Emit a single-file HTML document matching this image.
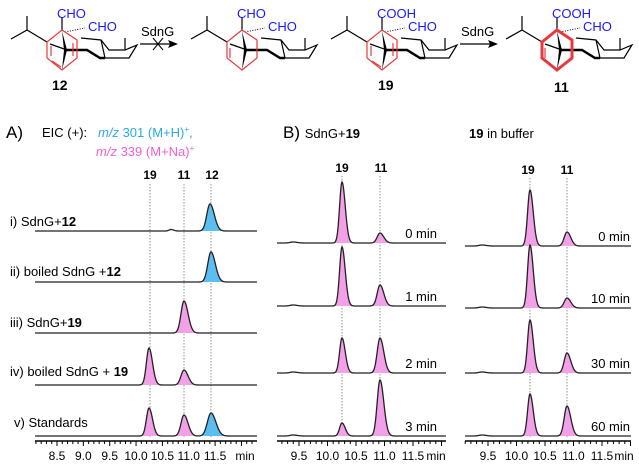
<!DOCTYPE html>
<html><head><meta charset="utf-8"><style>
body{margin:0;background:#fff;width:639px;height:468px;overflow:hidden}
svg{display:block;font-family:"Liberation Sans",Arial,sans-serif}
</style></head><body>
<svg id="s" width="639" height="468" viewBox="0 0 639 468" xmlns="http://www.w3.org/2000/svg">
<defs>
<g id="mol">
  <polyline points="6,39 22,30 22,16" fill="none" stroke="#000" stroke-width="1.2"/>
  <line x1="22" y1="30" x2="42" y2="42" stroke="#000" stroke-width="1.2"/>
  <line x1="57" y1="30" x2="57" y2="17" stroke="#000" stroke-width="1.2"/>
  <line x1="45" y1="44" x2="62" y2="50" stroke="#000" stroke-width="1.2"/>
  <polygon points="57,31 62,50 57,70 59,50" fill="#000"/>
  <polyline points="60,50 82,50 95,58 100,58" fill="none" stroke="#000" stroke-width="2.4"/>
  <polyline points="76,38 96,40 104,50 120,50 132,45 124,58 102,58 96,58" fill="none" stroke="#000" stroke-width="1.2"/>
  <line x1="96" y1="40" x2="100" y2="58" stroke="#000" stroke-width="1.2"/>
  <line x1="120" y1="38" x2="120" y2="50" stroke="#000" stroke-width="1.2"/>
  <line x1="60" y1="32" x2="80" y2="28" stroke="#000" stroke-width="1" stroke-dasharray="1,1.5"/>
</g>
</defs>
<g id="chem"></g>
<g id="plots"></g>
</svg>
<script>
var S='http://www.w3.org/2000/svg';
var chem=document.getElementById('chem'),plots=document.getElementById('plots');
function el(p,t,a,txt){var e=document.createElementNS(S,t);for(var k in a)e.setAttribute(k,a[k]);if(txt!==undefined)e.textContent=txt;p.appendChild(e);return e;}
function mol(ox,top,red,bold){
  var g=el(chem,'g',{transform:'translate('+ox+',0)'});
  el(g,'use',{href:'#mol'});
  var sw=bold?3:1.2;
  el(g,'polygon',{points:'42,42 57,30 72,40 72,58 57,70 42,58',fill:'none',stroke:'#e8383d','stroke-width':sw});
  if(red){el(g,'line',{x1:46,y1:46,x2:46,y2:56,stroke:'#e8383d','stroke-width':1.2});el(g,'line',{x1:47,y1:61,x2:56,y2:67,stroke:'#e8383d','stroke-width':1.2});el(g,'line',{x1:68,y1:43,x2:68,y2:56,stroke:'#e8383d','stroke-width':1.2});}
  else{el(g,'line',{x1:45,y1:48,x2:45,y2:58,stroke:'#e8383d','stroke-width':1.2});}
  el(g,'text',{x:52,y:18,fill:'#1a1aff','font-size':13},top);
  el(g,'text',{x:83,y:31,fill:'#1a1aff','font-size':13},'CHO');
}
mol(5,'CHO',true,false);mol(185,'CHO',false,false);mol(325,'COOH',true,false);mol(500,'COOH',false,true);
function arrow(x,cross){el(chem,'line',{x1:x,y1:44,x2:x+32,y2:44,stroke:'#000','stroke-width':1.2});el(chem,'polygon',{points:(x+38)+',44 '+(x+28)+',40 '+(x+30)+',44 '+(x+28)+',48',fill:'#000'});el(chem,'text',{x:x+1,y:36,'font-size':13},'SdnG');
 if(cross){el(chem,'line',{x1:x+13,y1:38,x2:x+23,y2:50,stroke:'#000','stroke-width':1});el(chem,'line',{x1:x+13,y1:50,x2:x+23,y2:38,stroke:'#000','stroke-width':1});}}
arrow(140,true);arrow(460,false);
[['12',52,90],['19',378,90],['11',554,92]].forEach(function(a){el(chem,'text',{x:a[1],y:a[2],'font-size':14,'font-weight':'bold'},a[0]);});

function peakPath(x0,x1,base,peaks){
  var pts=[];for(var x=x0;x<=x1;x+=0.5){var y=0;peaks.forEach(function(p){var d=x-p[0];var s=d<0?p[2]:p[2]*1.35;y+=p[1]*Math.exp(-d*d/(2*s*s));});pts.push([x,base-y]);}
  return pts;
}
function trace(x0,x1,base,peaks,fills){
  var pts=peakPath(x0,x1,base,peaks);
  peaks.forEach(function(p,i){var c=fills[i];var a=p[0]-4*p[2],b=p[0]+5*p[2];var sub=pts.filter(function(q){return q[0]>=a&&q[0]<=b;});
    var d='M'+a+','+base+sub.map(function(q){return 'L'+q[0]+','+q[1].toFixed(2);}).join('')+'L'+b+','+base+'Z';el(plots,'path',{d:d,fill:c});});
  el(plots,'path',{d:'M'+pts.map(function(q){return q[0]+','+q[1].toFixed(2);}).join('L'),fill:'none',stroke:'#222','stroke-width':1.3});
}
var P='#f2a0e8',B='#5bbdf0';
function axis(x0,x1,y,f,minx,labels){
  el(plots,'line',{x1:x0,y1:y,x2:x1,y2:y,stroke:'#000','stroke-width':1.5});
  for(var t=8.0;t<=12.3;t+=0.1){var x=f(t);if(x<x0||x>x1)continue;var m=Math.round(t*10)%5==0;el(plots,'line',{x1:x,y1:y,x2:x,y2:y+(m?5:3),stroke:'#000','stroke-width':1});}
  labels.forEach(function(t){el(plots,'text',{x:f(t),y:y+19,'font-size':12,'text-anchor':'middle'},t.toFixed(1));});
  el(plots,'text',{x:minx,y:y+19,'font-size':12,'text-anchor':'middle'},'min');
}
function vdot(x,y0,y1){el(plots,'line',{x1:x,y1:y0,x2:x,y2:y1,stroke:'#777','stroke-width':0.8,'stroke-dasharray':'1.5,1.5'});}
var fA=function(t){return 57+(t-8.5)*52.7;};
vdot(150,184,437);vdot(184,184,437);vdot(211,184,437);
[['19',150],['11',184],['12',212]].forEach(function(a){el(plots,'text',{x:a[1],y:179,'font-size':12,'font-weight':'bold','text-anchor':'middle'},a[0]);});
trace(35,257,231,[[210,27,3.2],[171,1.5,2]],[B,'none']);
trace(35,257,282,[[211,30,3.2]],[B]);
trace(35,257,333,[[184,32,3.0]],[P]);
trace(35,257,385,[[149,37,2.6],[184,15,3.0]],[P,P]);
trace(35,257,436,[[149,28,2.6],[184,21,3.0],[211,23,3.6]],[P,P,B]);
axis(35,257,441,fA,245,[8.5,9.0,9.5,10.0,10.5,11.0,11.5]);
var rl=[['i) SdnG+','12',10,226],['ii) boiled SdnG +','12',10,276],['iii) SdnG+','19',10,327],['iv) boiled SdnG + ','19',10,376],['v) Standards','',14,427]];
rl.forEach(function(r){var t=el(plots,'text',{x:r[2],y:r[3],'font-size':13});el(t,'tspan',{},r[0]);el(t,'tspan',{'font-weight':'bold'},r[1]);});
el(plots,'text',{x:6,y:138,'font-size':17},'A)');
el(plots,'text',{x:42,y:137,'font-size':13},'EIC (+):');
var t1=el(plots,'text',{x:98,y:137,'font-size':13,fill:'#29a8e8'});el(t1,'tspan',{'font-style':'italic'},'m/z');el(t1,'tspan',{},' 301 (M+H)');el(t1,'tspan',{'font-size':8,dy:-5},'+');el(t1,'tspan',{dy:5},',');
var t2=el(plots,'text',{x:96,y:156,'font-size':13,fill:'#f060d0'});el(t2,'tspan',{'font-style':'italic'},'m/z');el(t2,'tspan',{},' 339 (M+Na)');el(t2,'tspan',{'font-size':8,dy:-5},'+');
var fB=function(t){return 299+(t-9.5)*57;};
vdot(342,176,437);vdot(380,176,437);
el(plots,'text',{x:342,y:172,'font-size':12,'font-weight':'bold','text-anchor':'middle'},'19');
el(plots,'text',{x:381,y:172,'font-size':12,'font-weight':'bold','text-anchor':'middle'},'11');
[[243,61,10,'0 min'],[306,59,21,'1 min'],[373,35,35,'2 min'],[436,13,56,'3 min']].forEach(function(r){trace(277,446,r[0],[[342,r[1],2.4],[380,r[2],2.8],[293,1,3]],[P,P,'none']);el(plots,'text',{x:437,y:r[0]-5,'font-size':13,'text-anchor':'end'},r[3]);});
axis(277,446,441,fB,436,[9.5,10.0,10.5,11.0,11.5]);
var tb=el(plots,'text',{x:283,y:138,'font-size':13});el(tb,'tspan',{'font-size':17},'B) ');el(tb,'tspan',{},'SdnG+');el(tb,'tspan',{'font-weight':'bold'},'19');
var fC=function(t){return 488+(t-9.5)*57;};
vdot(530,178,437);vdot(567,178,437);
el(plots,'text',{x:528,y:174,'font-size':12,'font-weight':'bold','text-anchor':'middle'},'19');
el(plots,'text',{x:567,y:174,'font-size':12,'font-weight':'bold','text-anchor':'middle'},'11');
[[246,56,14,'0 min'],[308,63,10,'10 min'],[373,53,20,'30 min'],[436,42,30,'60 min']].forEach(function(r){trace(465,631,r[0],[[530,r[1],2.4],[567,r[2],2.8],[482,1,3]],[P,P,'none']);el(plots,'text',{x:630,y:r[0]-5,'font-size':13,'text-anchor':'end'},r[3]);});
axis(465,631,441,fC,624,[9.5,10.0,10.5,11.0,11.5]);
var tc=el(plots,'text',{x:469,y:138,'font-size':13});el(tc,'tspan',{'font-weight':'bold'},'19');el(tc,'tspan',{},' in buffer');
</script>
</body></html>
